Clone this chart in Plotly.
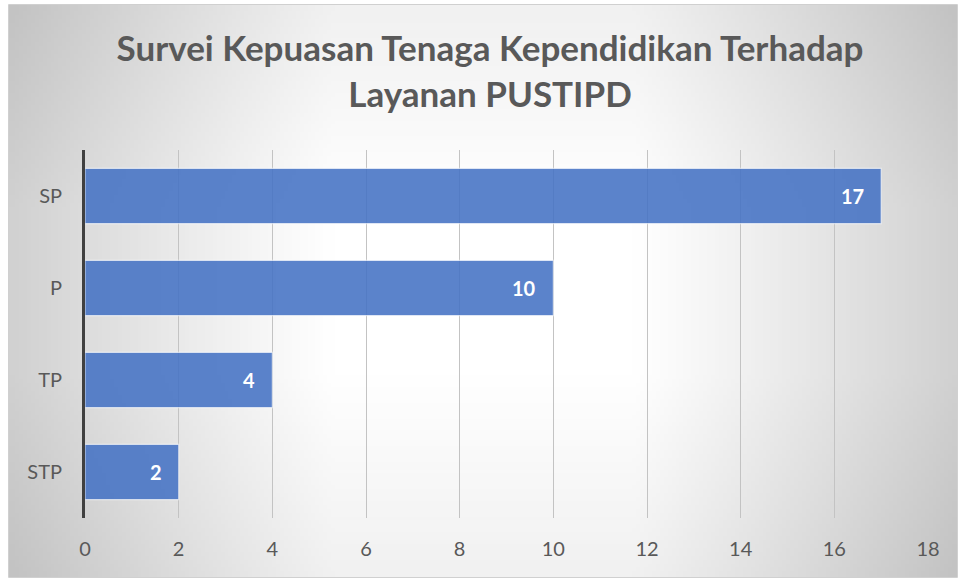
import base64, struct, zlib
import numpy as np
import plotly.graph_objects as go

# ---------------- data ----------------
categories = ["SP", "P", "TP", "STP"]
values = [17, 10, 4, 2]
x_ticks = [0, 2, 4, 6, 8, 10, 12, 14, 16, 18]
title_text = "Survei Kepuasan Tenaga Kependidikan Terhadap<br>Layanan PUSTIPD"

# ---------------- layout constants ----------------
W, H = 958, 579
L, R, T, B = 85, 30, 150, 61
PW, PH = W - L - R, H - T - B
FONT = "Lato"
TXT = "#595959"

# radial-ish grey gradient background (chart area) as PNG
def make_png(w, h):
    xs = np.linspace(-1, 1, w)
    ys = np.linspace(-1, 1, h)
    U, V = np.meshgrid(np.abs(xs), np.abs(ys))
    fu = np.clip((U - 0.32) / 0.68, 0, 1)
    fv = np.clip((V - 0.30) / 0.70, 0, 1)
    g = 255 - 46 * fu ** 1.1 - 14 * fv
    g = np.clip(g, 0, 255).astype(np.uint8)
    raw = b"".join(b"\x00" + g[i].tobytes() for i in range(h))
    def chunk(t, d):
        c = struct.pack(">I", len(d)) + t + d
        return c + struct.pack(">I", zlib.crc32(t + d) & 0xffffffff)
    png = b"\x89PNG\r\n\x1a\n"
    png += chunk(b"IHDR", struct.pack(">IIBBBBB", w, h, 8, 0, 0, 0, 0))
    png += chunk(b"IDAT", zlib.compress(raw, 9))
    png += chunk(b"IEND", b"")
    return "data:image/png;base64," + base64.b64encode(png).decode()

bg = make_png(240, 146)

# page pixel -> paper fraction
def px_x(p):
    return (p - L) / PW

def px_y(p):
    return (H - B - p) / PH

fig = go.Figure()
fig.add_trace(go.Bar(
    y=categories, x=values, orientation="h", width=0.6,
    marker=dict(color="rgba(68,114,196,0.88)",
                line=dict(color="rgba(255,255,255,0.6)", width=1.2)),
    hoverinfo="skip", showlegend=False,
))

annotations = []
for c, v in zip(categories, values):
    annotations.append(dict(
        x=v, y=c, xref="x", yref="y", text=f"<b>{v}</b>", showarrow=False,
        xanchor="right", yanchor="middle", xshift=-15,
        font=dict(family=FONT, size=20, color="white"),
    ))

fig.update_layout(
    width=W, height=H,
    margin=dict(l=L, r=R, t=T, b=B),
    paper_bgcolor="white",
    plot_bgcolor="rgba(0,0,0,0)",
    font=dict(family=FONT, color=TXT),
    title=dict(text=f"<b>{title_text}</b>", x=px_x(490), xref="paper", xanchor="center",
               y=1 - 61 / H, yref="container", yanchor="top",
               font=dict(family=FONT, size=35, color=TXT)),
    xaxis=dict(range=[0, 18], tickvals=x_ticks, showgrid=True, gridcolor="#c3c3c3",
               gridwidth=1, zeroline=False, showline=False, ticks="",
               tickfont=dict(family=FONT, size=20, color=TXT), ticklabelstandoff=17,
               fixedrange=True),
    yaxis=dict(categoryorder="array", categoryarray=categories[::-1], range=[-0.5, 3.5],
               showgrid=False, zeroline=False, showline=True, linecolor="#404040",
               linewidth=3, ticks="", tickfont=dict(family=FONT, size=20, color=TXT),
               ticklabelstandoff=16, fixedrange=True),
    bargap=0.4,
    annotations=annotations,
    images=[dict(source=bg, xref="paper", yref="paper",
                 x=px_x(9), y=px_y(5), sizex=px_x(958) - px_x(9), sizey=px_y(5) - px_y(577),
                 xanchor="left", yanchor="top", sizing="stretch", layer="below")],
    shapes=[dict(type="rect", xref="paper", yref="paper",
                 x0=px_x(8.5), x1=px_x(957.5), y0=px_y(577.5), y1=px_y(4.5),
                 line=dict(color="#d0d0d0", width=1), layer="below")],
)

fig.write_html(
    "out.html",
    config={"displayModeBar": False},
    post_script=(
        "document.documentElement.style.overflow='hidden';"
        "document.body.style.margin='0';document.body.style.overflow='hidden';"
    ),
)
